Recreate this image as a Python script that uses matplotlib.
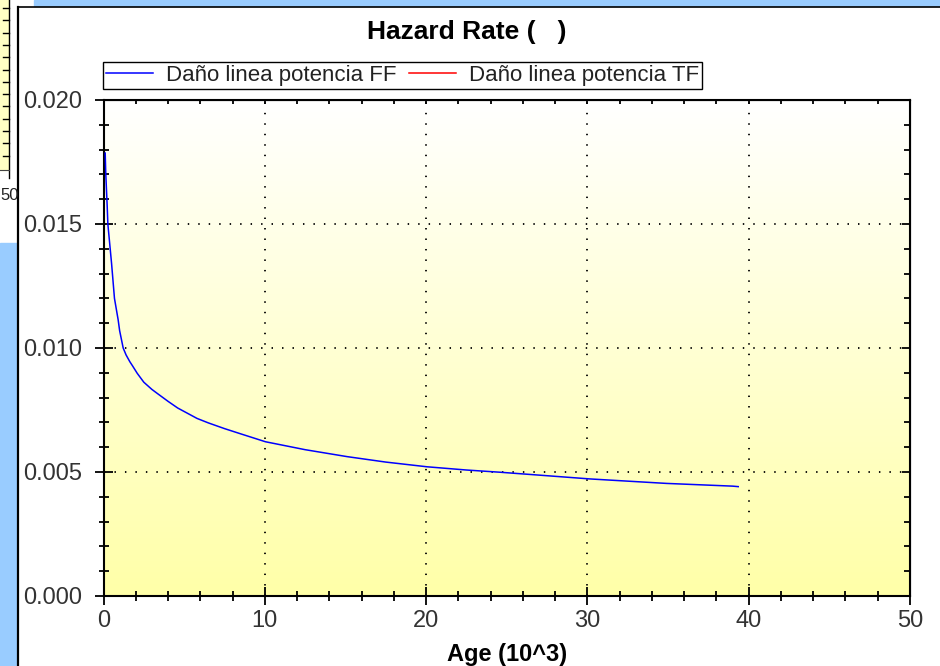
import numpy as np
import matplotlib
matplotlib.use("Agg")
import matplotlib.pyplot as plt
from matplotlib.colors import LinearSegmentedColormap
from matplotlib.lines import Line2D
from matplotlib.patches import Rectangle
from matplotlib.ticker import MultipleLocator, FormatStrFormatter

# values (age in 10^3, hazard rate)
age_ff = [0.105, 0.14, 0.23, 0.27, 0.5, 0.68, 0.91, 1.0, 1.22, 1.4, 1.63,
          1.8, 2.09, 2.5, 3.0, 3.33, 4.0, 4.6, 5.0, 5.8, 6.5, 7.5, 8.5,
          10.04, 12.5, 15.1, 17.5, 20.06, 22.5, 24.6, 27.5, 30.17, 34.9,
          39.0, 39.35]
hazard_ff = [0.01786, 0.01704, 0.0157, 0.0150, 0.01341, 0.0120, 0.01113,
             0.0107, 0.0100, 0.00972, 0.00945, 0.00928, 0.00898, 0.00862,
             0.00833, 0.00817, 0.00785, 0.00758, 0.00744, 0.00716, 0.00698,
             0.00675, 0.00654, 0.00622, 0.00590, 0.00562, 0.00540, 0.00521,
             0.00508, 0.00499, 0.00485, 0.00472, 0.00454, 0.00443, 0.00441]
# second series only shows up in the legend
age_tf = []
hazard_tf = []

series_labels = ["Daño linea potencia FF", "Daño linea potencia TF"]
x_ticks = [0, 10, 20, 30, 40, 50]
y_ticks = [0.000, 0.005, 0.010, 0.015, 0.020]

plt.rcParams["font.family"] = ["Liberation Sans", "DejaVu Sans"]
tick_size = 17
legend_size = 16

W, H = 940, 666


def fx(px):
    return px / W


def fy(py):
    return 1 - py / H


fig = plt.figure(figsize=(W / 100, H / 100), dpi=100)
fig.patch.set_facecolor("white")

# bits of the surrounding window in the screenshot
blue = "#99ccff"
fig.add_artist(Rectangle((fx(34), fy(6)), 1 - fx(34), 1 - fy(6),
                         transform=fig.transFigure, color=blue, zorder=0))
fig.add_artist(Rectangle((0, 0), fx(17.3), fy(243),
                         transform=fig.transFigure, color=blue, zorder=0))
fig.add_artist(Rectangle((0, fy(170)), fx(8), 1 - fy(170),
                         transform=fig.transFigure, color="#ffffc4", zorder=0))
fig.add_artist(Line2D([fx(8.5), fx(8.5)], [fy(178), 1], color="black", lw=1.0))
fig.add_artist(Line2D([0, fx(8.5)], [fy(170), fy(170)], color="#444444", lw=0.8))
for py in np.arange(8, 165, 12.3):
    fig.add_artist(Line2D([fx(3), fx(8.5)], [fy(py), fy(py)], color="black", lw=1.0))
fig.text(fx(0.5), fy(195), "50", ha="left", va="center", size=12,
         color="#222222")
fig.add_artist(Line2D([fx(18), 1], [fy(6.5), fy(6.5)], color="black", lw=1.2))
fig.add_artist(Line2D([fx(18.3), fx(18.3)], [0, fy(6.5)], color="black", lw=1.6))

ax = fig.add_axes([fx(103.5), fy(596), fx(910) - fx(103.5), fy(100) - fy(596)])

cmap = LinearSegmentedColormap.from_list("bg", ["#ffffa8", "#ffffff"])
grad = np.linspace(0, 1, 256).reshape(-1, 1)
ax.imshow(grad, extent=[0, 1, 0, 1], transform=ax.transAxes, aspect="auto",
          cmap=cmap, origin="lower", zorder=0)

ax.plot(age_ff, hazard_ff, color="#0000ff", lw=1.1, label=series_labels[0], zorder=3)
ax.plot(age_tf, hazard_tf, color="#ff0000", lw=1.1, label=series_labels[1], zorder=3)

ax.set_xlim(0, 50)
ax.set_ylim(0, 0.02)
ax.set_xticks(x_ticks)
ax.set_yticks(y_ticks)
ax.xaxis.set_minor_locator(MultipleLocator(2))
ax.yaxis.set_minor_locator(MultipleLocator(0.001))
ax.yaxis.set_major_formatter(FormatStrFormatter("%.3f"))

ax.tick_params(which="major", direction="inout", length=13.5, width=1.3,
               labelsize=tick_size, labelcolor="#333333")
ax.tick_params(which="minor", direction="inout", length=7.2, width=1.3)
ax.tick_params(axis="y", which="major", pad=8.6)
ax.tick_params(axis="x", which="major", pad=3.5)

ax.set_axisbelow(True)
ax.grid(True, which="major", color="black", linestyle=(0, (0.8, 5.0)), linewidth=1.3)
for sp in ax.spines.values():
    sp.set_linewidth(1.5)
    sp.set_color("black")

top = ax.secondary_xaxis("top")
top.set_xticks(x_ticks)
top.xaxis.set_minor_locator(MultipleLocator(2))
top.tick_params(which="both", direction="in", length=3, width=1.3, labeltop=False)

right = ax.secondary_yaxis("right")
right.set_yticks(y_ticks)
right.yaxis.set_minor_locator(MultipleLocator(0.001))
right.tick_params(which="major", direction="in", length=6, width=1.3, labelright=False)
right.tick_params(which="minor", direction="in", length=4, width=1.3)

leg = ax.legend(loc="lower left", bbox_to_anchor=(fx(103), fy(89)),
                bbox_transform=fig.transFigure, ncol=2, frameon=True,
                fancybox=False, shadow=False, borderaxespad=0, borderpad=0.14,
                handlelength=2.1, handletextpad=0.6, columnspacing=0.55,
                fontsize=legend_size, edgecolor="black", framealpha=1)
leg.get_frame().set_linewidth(1.0)
for t in leg.get_texts():
    t.set_color("#222222")

fig.text(fx(466.5), fy(32), "Hazard Rate (   )", ha="center", va="center",
         fontweight="bold", size=19)

ax.set_xlabel("Age (10^3)", fontweight="bold", size=17)
ax.xaxis.set_label_coords(0.5, (596 - 654) / (596 - 100))
ax.xaxis.label.set_va("center")

fig.savefig("out.png", dpi=100)
plt.close(fig)
